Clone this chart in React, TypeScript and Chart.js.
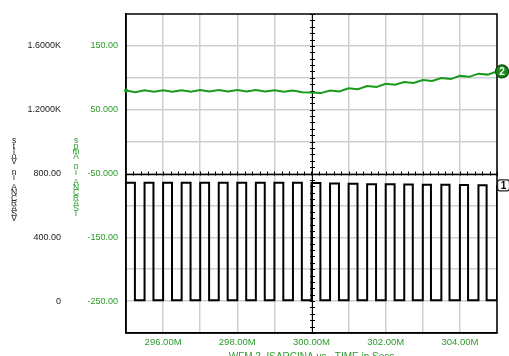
import React, { useEffect, useRef } from 'react';
import { Chart, registerables } from 'chart.js';
Chart.register(...registerables);

// ---- data ----
const greenTimes = [295, 295.25, 295.5, 295.75, 296, 296.25, 296.5, 296.75, 297, 297.25, 297.5, 297.75, 298, 298.25, 298.5, 298.75, 299, 299.25, 299.5, 299.75, 300, 300.25, 300.5, 300.75, 301, 301.25, 301.5, 301.75, 302, 302.25, 302.5, 302.75, 303, 303.25, 303.5, 303.75, 304, 304.25, 304.5, 304.75, 305];
const greenValues = [80, 77.5, 80.5, 78, 80.5, 78, 80.5, 78, 81, 78.5, 81, 78.5, 81, 78.5, 81, 78.5, 80.5, 78, 80, 77.5, 77, 76, 80, 78.5, 83.5, 82, 87, 85.5, 90.5, 89, 93.5, 92, 96.5, 95, 99.5, 98, 103, 101.5, 106.5, 105, 110];
const riseTimes = [295.0, 295.5, 296.0, 296.5, 297.0, 297.5, 298.0, 298.5, 299.0, 299.5, 300.0, 300.5, 301.0, 301.5, 302.0, 302.5, 303.0, 303.5, 304.0, 304.5, 305.0];
const fallTimes = [295.24, 295.74, 296.24, 296.74, 297.24, 297.74, 298.24, 298.74, 299.24, 299.74, 300.24, 300.74, 301.24, 301.74, 302.24, 302.73, 303.22, 303.72, 304.22, 304.72];
const pulseHigh = [742, 742, 742, 742, 742, 742, 742, 742, 742, 742, 741, 737, 735, 733, 732, 731, 730, 729, 728, 727, 726];
const pulseLow = 5;

const voltTicks = [0, 400, 800, 1200, 1600];
const voltLabels = ['0', '400.00', '800.00', '1.2000K', '1.6000K'];
const ampTicks = [-250, -200, -150, -100, -50, 0, 50, 100, 150];
const ampLabelValues = [150, 50, -50, -150, -250];
const ampLabels = ['150.00', '50.000', '-50.000', '-150.00', '-250.00'];
const timeTicks = [295, 296, 297, 298, 299, 300, 301, 302, 303, 304, 305];
const timeLabelValues = [296, 298, 300, 302, 304];
const timeLabels = ['296.00M', '298.00M', '300.00M', '302.00M', '304.00M'];

const voltTitle = 'VSARCNA in Volts';
const ampTitle = 'ISARCNA in Amps';
const xTitle = 'WFM.2  ISARCINA vs.  TIME in Secs';

const GREEN = '#1a9a1a';
const LABEL_GREEN = '#2a9a2a';
const FONT = '"Liberation Sans", Arial, sans-serif';

export default function App() {
  const ref = useRef<HTMLCanvasElement>(null);

  useEffect(() => {
    const canvas = ref.current!;
    const squarePts: { x: number; y: number }[] = [];
    riseTimes.forEach((t, i) => {
      squarePts.push({ x: t, y: pulseHigh[i] });
      if (i < fallTimes.length) squarePts.push({ x: fallTimes[i], y: pulseLow });
    });
    const greenPts = greenTimes.map((t, i) => ({ x: t, y: greenValues[i] }));

    const decor = {
      id: 'decor',
      beforeDatasetsDraw(chart: any) {
        const { ctx, chartArea: a, scales } = chart;
        const xs = scales.x, y2 = scales.y2;
        const cx = Math.round(xs.getPixelForValue(300)) + 0.5;
        const cy = Math.round(y2.getPixelForValue(-50)) + 0.5;
        ctx.save();
        ctx.strokeStyle = '#000';
        ctx.lineWidth = 1.5;
        ctx.beginPath();
        ctx.moveTo(a.left, cy); ctx.lineTo(a.right, cy);
        ctx.stroke();
        ctx.lineWidth = 1;
        ctx.beginPath();
        ctx.moveTo(cx, a.top); ctx.lineTo(cx, a.bottom);
        for (let t = 295.2; t < 305; t += 0.2) {
          const px = Math.round(xs.getPixelForValue(t)) + 0.5;
          ctx.moveTo(px, cy - 3); ctx.lineTo(px, cy + 1);
        }
        for (let v = -300; v <= 200; v += 10) {
          const py = Math.round(y2.getPixelForValue(v)) + 0.5;
          ctx.moveTo(cx - 2.5, py); ctx.lineTo(cx + 2.5, py);
        }
        ctx.stroke();
        ctx.restore();
      },
      afterDraw(chart: any) {
        const { ctx, chartArea: a, scales } = chart;
        ctx.save();
        ctx.strokeStyle = '#000';
        ctx.lineWidth = 1.5;
        ctx.strokeRect(a.left, a.top, a.right - a.left, a.bottom - a.top);

        // left green dot
        const gy0 = scales.y2.getPixelForValue(greenValues[0]);
        ctx.fillStyle = GREEN;
        ctx.beginPath(); ctx.arc(a.left, gy0, 2, 0, Math.PI * 2); ctx.fill();

        // marker 2
        const gy = scales.y2.getPixelForValue(greenValues[greenValues.length - 1]);
        ctx.beginPath(); ctx.arc(a.right + 5, gy, 6.5, 0, Math.PI * 2);
        ctx.fillStyle = '#1b8a1b'; ctx.fill();
        ctx.strokeStyle = '#0a4a0a'; ctx.lineWidth = 1.2; ctx.stroke();
        ctx.fillStyle = '#fff';
        ctx.font = 'bold 10px ' + FONT;
        ctx.textAlign = 'center'; ctx.textBaseline = 'middle';
        ctx.fillText('2', a.right + 5, gy + 0.5);

        // marker 1
        const by = scales.y.getPixelForValue(pulseHigh[pulseHigh.length - 1]);
        ctx.fillStyle = '#fff';
        ctx.strokeStyle = '#222';
        ctx.lineWidth = 1.3;
        ctx.beginPath();
        if ((ctx as any).roundRect) (ctx as any).roundRect(a.right + 0.5, by - 5.5, 12, 11, 2.5);
        else ctx.rect(a.right + 0.5, by - 5.5, 12, 11);
        ctx.fill(); ctx.stroke();
        ctx.fillStyle = '#000';
        ctx.fillText('1', a.right + 6.5, by + 0.5);

        // stacked vertical titles
        ctx.font = '8.5px ' + FONT;
        ctx.textAlign = 'center'; ctx.textBaseline = 'middle';
        const vt = voltTitle.split('').reverse();
        ctx.fillStyle = '#222';
        vt.forEach((c, i) => ctx.fillText(c, 14, 141 + i * 5.2));
        const at = ampTitle.split('').reverse();
        ctx.fillStyle = LABEL_GREEN;
        at.forEach((c, i) => ctx.fillText(c, 76, 141 + i * 5.2));

        // x title
        ctx.font = '10px ' + FONT;
        ctx.fillStyle = LABEL_GREEN;
        ctx.textBaseline = 'alphabetic';
        ctx.fillText(xTitle, (a.left + a.right) / 2, 359.5);
        ctx.restore();
      },
    };

    const chart = new Chart(canvas, {
      type: 'line',
      data: {
        datasets: [
          {
            data: greenPts,
            yAxisID: 'y2',
            borderColor: GREEN,
            borderWidth: 2,
            pointRadius: 0,
            tension: 0,
          },
          {
            data: squarePts,
            yAxisID: 'y',
            borderColor: '#000',
            borderWidth: 2,
            pointRadius: 0,
            stepped: true,
          },
        ],
      },
      options: {
        responsive: false,
        animation: false,
        devicePixelRatio: 1,
        layout: { padding: { left: 0, right: 12, top: 14, bottom: 0 } },
        plugins: { legend: { display: false }, tooltip: { enabled: false } },
        scales: {
          x: {
            type: 'linear',
            min: 295,
            max: 305,
            afterBuildTicks: (s: any) => { s.ticks = timeTicks.map((v) => ({ value: v })); },
            afterFit: (s: any) => { s.height = 23; },
            grid: { color: '#cfcfcf', lineWidth: 1.5, drawTicks: false },
            border: { color: '#000', width: 1.5 },
            ticks: {
              autoSkip: false,
              maxRotation: 0,
              padding: 4,
              color: LABEL_GREEN,
              font: { family: FONT, size: 9.5 },
              callback: (v: any) => {
                const i = timeLabelValues.indexOf(Number(v));
                return i >= 0 ? timeLabels[i] : '';
              },
            },
          },
          y: {
            type: 'linear',
            position: 'left',
            weight: 1,
            min: -200,
            max: 1800,
            afterBuildTicks: (s: any) => { s.ticks = voltTicks.map((v) => ({ value: v })); },
            afterFit: (s: any) => { s.width = 66; },
            grid: { display: false, drawTicks: false },
            border: { display: false },
            ticks: {
              autoSkip: false,
              padding: 5,
              color: '#222',
              font: { family: FONT, size: 9 },
              callback: (v: any) => {
                const i = voltTicks.indexOf(Number(v));
                return i >= 0 ? voltLabels[i] : '';
              },
            },
          },
          y2: {
            type: 'linear',
            position: 'left',
            weight: 0,
            min: -300,
            max: 200,
            afterBuildTicks: (s: any) => { s.ticks = ampTicks.map((v) => ({ value: v })); },
            afterFit: (s: any) => { s.width = 60; },
            grid: { color: '#cfcfcf', lineWidth: 1.5, drawTicks: false },
            border: { color: '#000', width: 1.5 },
            ticks: {
              autoSkip: false,
              padding: 8,
              color: LABEL_GREEN,
              font: { family: FONT, size: 9 },
              callback: (v: any) => {
                const i = ampLabelValues.indexOf(Number(v));
                return i >= 0 ? ampLabels[i] : '';
              },
            },
          },
        },
      },
      plugins: [decor],
    } as any);
    return () => chart.destroy();
  }, []);

  return (
    <div style={{ position: 'fixed', left: 0, top: 0, width: 509, height: 356, background: '#fff' }}>
      <canvas ref={ref} width={509} height={356} style={{ width: 509, height: 356, display: 'block' }} />
    </div>
  );
}
